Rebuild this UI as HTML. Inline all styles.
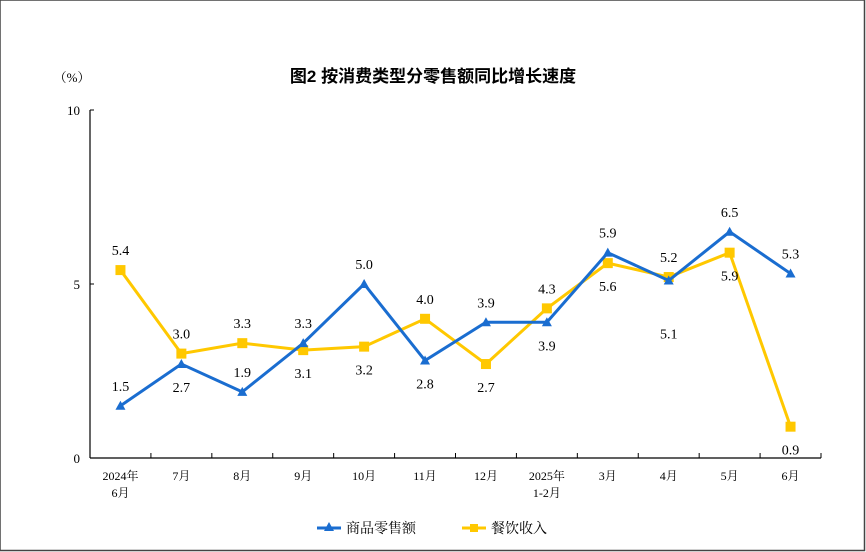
<!DOCTYPE html>
<html><head><meta charset="utf-8"><style>
body{margin:0;background:#fff}
svg{display:block;font-family:"Liberation Serif","Noto Serif CJK SC",serif}
</style></head><body>
<svg id="chart" width="866" height="552">
<rect x="0" y="0" width="864.5" height="550.5" fill="#fff" stroke="#444" stroke-width="1.5"/>
<text x="433" y="82" text-anchor="middle" font-size="17" font-weight="bold" font-family="'Liberation Sans','Noto Sans CJK SC',sans-serif">图2  按消费类型分零售额同比增长速度</text>
<text x="72" y="82" text-anchor="middle" font-size="13">（%）</text>
<g id="axes"></g>
<g id="marks"></g>
<g>
<g>
<line x1="317" y1="528" x2="341" y2="528" stroke="#1a6dd0" stroke-width="3"/>
<polygon points="329,522 334,531 324,531" fill="#1a6dd0"/>
<text x="346" y="533" font-size="14">商品零售额</text></g>
<g>
<line x1="462" y1="528" x2="486" y2="528" stroke="#ffc800" stroke-width="3"/>
<rect x="470" y="524" width="8" height="8" fill="#ffc800"/>
<text x="491" y="533" font-size="14">餐饮收入</text></g>
</g>
</svg>
<script>
const categories=["2024年|6月","7月","8月","9月","10月","11月","12月","2025年|1-2月","3月","4月","5月","6月"];
const goodsValues=[1.5,2.7,1.9,3.3,5.0,2.8,3.9,3.9,5.9,5.1,6.5,5.3];
const cateringValues=[5.4,3.0,3.3,3.1,3.2,4.0,2.7,4.3,5.6,5.2,5.9,0.9];
const yTicks=[0,5,10];
const goodsLabelAbove=[1,0,1,1,1,0,1,0,1,2,1,1];
const cateringLabelAbove=[1,1,1,0,0,1,0,1,0,1,0,0];

const NS="http://www.w3.org/2000/svg";
const x0=90,x1=821,y0=458,yTop=110;
const step=(x1-x0)/categories.length;
const xs=i=>x0+step*(i+0.5);
const ys=v=>y0-(v/10)*(y0-yTop);
function mk(t,a,p){const e=document.createElementNS(NS,t);for(const k in a)e.setAttribute(k,a[k]);p.appendChild(e);return e;}
const axes=document.getElementById('axes'),marks=document.getElementById('marks');
let l=mk('line',{x1:x0,y1:yTop,x2:x0,y2:y0,stroke:'#000','stroke-width':1.2},axes);


l=mk('line',{x1:x0,y1:y0,x2:x1,y2:y0,stroke:'#000','stroke-width':1.2},axes);


yTicks.forEach(v=>{
  mk('line',{x1:x0,y1:ys(v),x2:x0+4,y2:ys(v),stroke:'#000'},axes);
  const t=mk('text',{x:x0-10,y:ys(v)+5,'text-anchor':'end','font-size':13},axes);
  t.textContent=v;
  
  
});
for(let i=0;i<=categories.length;i++){
  mk('line',{x1:x0+step*i,y1:y0,x2:x0+step*i,y2:y0-5,stroke:'#000'},axes);
}
categories.forEach((c,i)=>{
  c.split('|').forEach((s,j)=>{
    const t=mk('text',{x:xs(i),y:y0+22+j*17,'text-anchor':'middle','font-size':12},axes);
    t.textContent=s;
    
    
  });
});
function series(vals,color,name,marker,above){
  const p=mk('polyline',{points:vals.map((v,i)=>xs(i)+','+ys(v)).join(' '),fill:'none',stroke:color,'stroke-width':3},marks);
  
  
  vals.forEach((v,i)=>{
    const X=xs(i),Y=ys(v);let m;
    if(marker==='tri') m=mk('polygon',{points:`${X},${Y-5} ${X+5},${Y+4} ${X-5},${Y+4}`,fill:color},marks);
    else m=mk('rect',{x:X-5,y:Y-5,width:10,height:10,fill:color},marks);
    
    
    const ty=above[i]===1?Y-15:(above[i]===2?Y+58:Y+28);
    const t=mk('text',{x:X,y:ty,'text-anchor':'middle','font-size':14},marks);
    t.textContent=v.toFixed(1);
    
    
  });
}
series(cateringValues,'#ffc800','catering','sq',cateringLabelAbove);
series(goodsValues,'#1a6dd0','goods','tri',goodsLabelAbove);
</script>
</body></html>
